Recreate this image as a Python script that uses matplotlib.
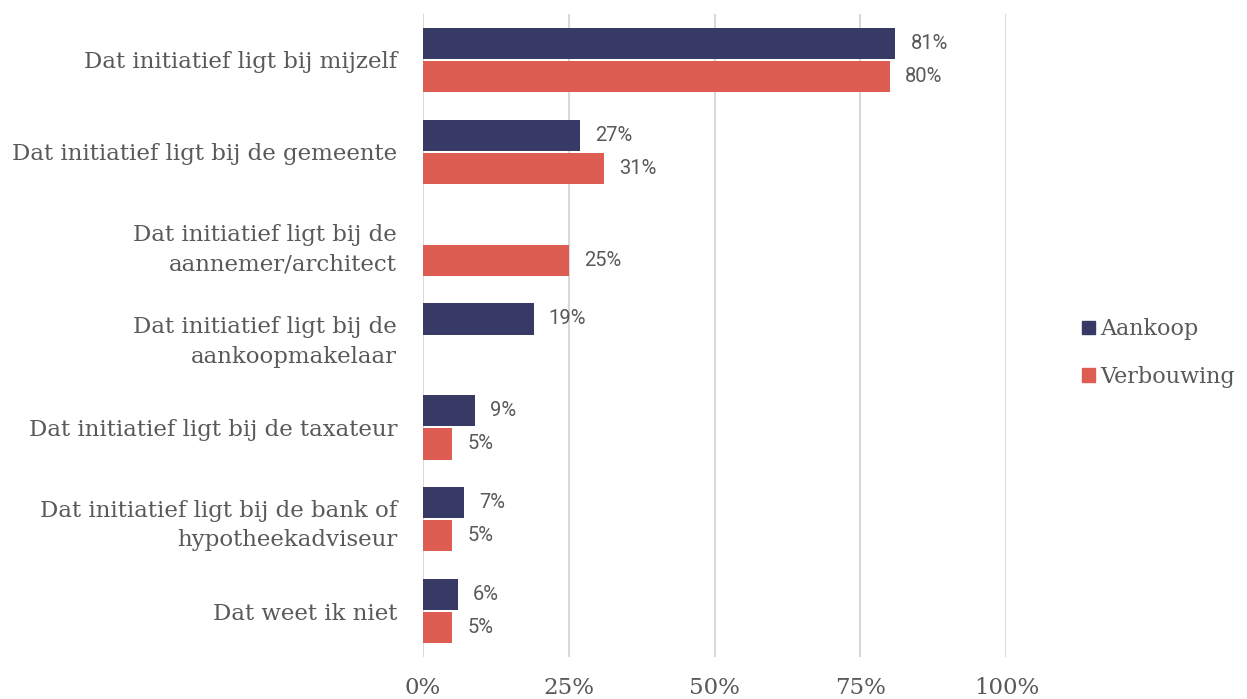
import matplotlib
matplotlib.use('Agg')
import matplotlib.pyplot as plt
import matplotlib.patches as mpatches
import numpy as np

# Survey: who takes the initiative (share of respondents)
categories = [
    'Dat initiatief ligt bij mijzelf',
    'Dat initiatief ligt bij de gemeente',
    'Dat initiatief ligt bij de\naannemer/architect',
    'Dat initiatief ligt bij de\naankoopmakelaar',
    'Dat initiatief ligt bij de taxateur',
    'Dat initiatief ligt bij de bank of\nhypotheekadviseur',
    'Dat weet ik niet',
]
aankoop = [81, 27, np.nan, 19, 9, 7, 6]
verbouwing = [80, 31, 25, np.nan, 5, 5, 5]
xticks = [0, 25, 50, 75, 100]
xtick_labels = ['0%', '25%', '50%', '75%', '100%']

color_aankoop = '#383A66'
color_verbouwing = '#DE5D53'
text_color = '#595959'
serif = 'DejaVu Serif'

fig = plt.figure(figsize=(12.47, 6.99), dpi=100)
ax = fig.add_axes([0.339, 0.06, 0.468, 0.92])

y = np.arange(len(categories))
bar_h = 0.34
gap = 0.02

ax.barh(y - bar_h / 2 - gap / 2, aankoop, height=bar_h, color=color_aankoop)
ax.barh(y + bar_h / 2 + gap / 2, verbouwing, height=bar_h, color=color_verbouwing)

# value labels
for i in range(len(categories)):
    if not np.isnan(aankoop[i]):
        ax.text(aankoop[i] + 2.6, y[i] - bar_h / 2 - gap / 2, f'{aankoop[i]:.0f}%',
                va='center', ha='left', fontsize=14.5, family='Roboto', color=text_color)
    if not np.isnan(verbouwing[i]):
        ax.text(verbouwing[i] + 2.6, y[i] + bar_h / 2 + gap / 2, f'{verbouwing[i]:.0f}%',
                va='center', ha='left', fontsize=14.5, family='Roboto', color=text_color)

ax.set_xlim(0, 100)
ax.set_ylim(len(categories) - 0.5, -0.5)
ax.set_xticks(xticks)
ax.set_xticklabels(xtick_labels, family=serif, fontsize=16.5, color=text_color)
ax.set_yticks(y)
ax.set_yticklabels(categories, family=serif, fontsize=16.5, color=text_color,
                   linespacing=1.45)
ax.tick_params(axis='both', length=0)
ax.tick_params(axis='x', pad=14)
ax.tick_params(axis='y', pad=18.5)

ax.grid(axis='x', color='#D9D9D9', linewidth=1.5)
ax.set_axisbelow(True)
for s in ax.spines.values():
    s.set_visible(False)

handles = [mpatches.Patch(color=color_aankoop, label='Aankoop'),
           mpatches.Patch(color=color_verbouwing, label='Verbouwing')]
fig.legend(handles=handles, loc='center left', bbox_to_anchor=(0.868, 0.495),
           frameon=False, prop={'family': serif, 'size': 16},
           labelcolor=text_color, handlelength=0.55, handleheight=0.55,
           handletextpad=0.25, labelspacing=1.15, borderpad=0, borderaxespad=0)

fig.savefig('out.png', dpi=100)
